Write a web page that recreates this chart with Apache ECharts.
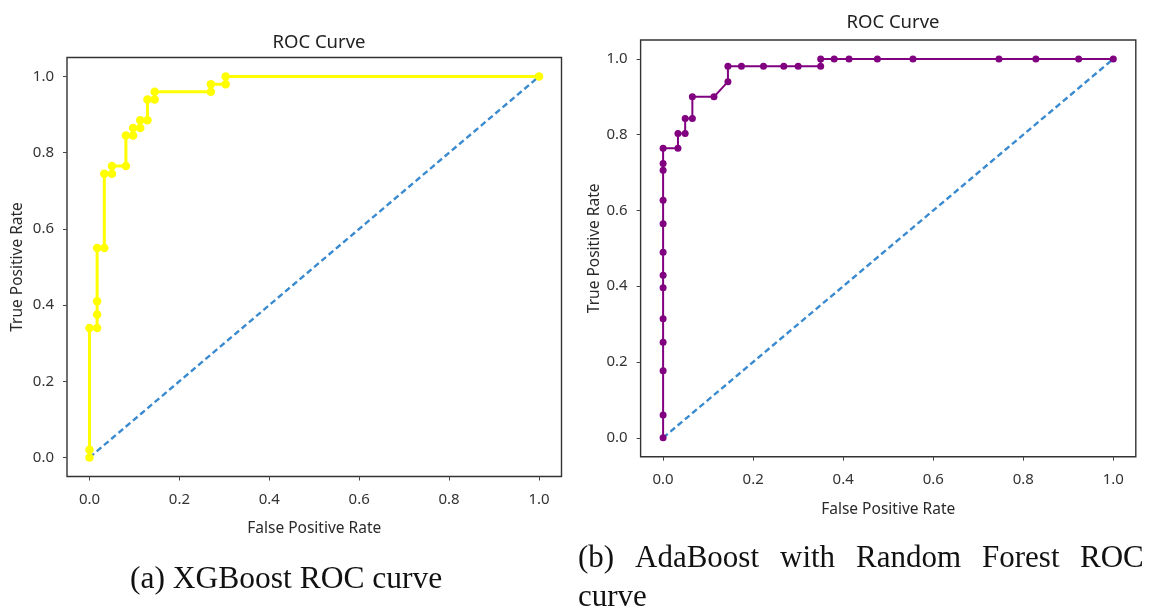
<!DOCTYPE html>
<html>
<head>
<meta charset="utf-8">
<script src="https://cdn.jsdelivr.net/npm/echarts@6/dist/echarts.min.js"></script>
<style>
html,body{margin:0;padding:0;background:#fff;}
#chart{width:1153px;height:608px;}
</style>
</head>
<body>
<div id="chart"></div>
<script>
// ---- data ----
const tickValues = [0, 0.2, 0.4, 0.6, 0.8, 1.0];
const chartTitles = ['ROC Curve', 'ROC Curve'];
const xAxisName = 'False Positive Rate';
const yAxisName = 'True Positive Rate';

// (a) XGBoost ROC curve
const xgbFpr = [0, 0, 0, 0.017, 0.017, 0.017, 0.017, 0.033, 0.033, 0.05, 0.05, 0.081, 0.081, 0.097, 0.097, 0.113, 0.113, 0.129, 0.129, 0.145, 0.145, 0.27, 0.27, 0.303, 0.303, 1.0];
const xgbTpr = [0, 0.02, 0.34, 0.34, 0.375, 0.41, 0.55, 0.55, 0.745, 0.745, 0.765, 0.765, 0.845, 0.845, 0.865, 0.865, 0.885, 0.885, 0.94, 0.94, 0.96, 0.96, 0.98, 0.98, 1.0, 1.0];

// (b) AdaBoost with Random Forest ROC curve
const adaFpr = [0, 0, 0, 0, 0, 0, 0, 0, 0, 0, 0, 0, 0, 0.033, 0.033, 0.049, 0.049, 0.065, 0.065, 0.113, 0.144, 0.144, 0.174, 0.223, 0.268, 0.30, 0.35, 0.35, 0.38, 0.413, 0.476, 0.555, 0.746, 0.828, 0.923, 1.0];
const adaTpr = [0, 0.06, 0.177, 0.252, 0.314, 0.396, 0.429, 0.49, 0.565, 0.627, 0.706, 0.724, 0.764, 0.764, 0.803, 0.803, 0.843, 0.843, 0.90, 0.90, 0.94, 0.981, 0.981, 0.981, 0.981, 0.981, 0.981, 1.0, 1.0, 1.0, 1.0, 1.0, 1.0, 1.0, 1.0, 1.0];

// chance line
const diagX = [0, 1];
const diagY = [0, 1];

const captionA = '(a) XGBoost ROC curve';
const captionBWords = ['(b)', 'AdaBoost', 'with', 'Random', 'Forest', 'ROC'];
const captionBLine2 = 'curve';

// ---- build ----
const zip = (a, b) => a.map((v, i) => [v, b[i]]);
const SANS = "'Noto Sans', 'Open Sans', 'DejaVu Sans', sans-serif";
const SERIF = "'Liberation Serif', 'DejaVu Serif', serif";

const grids = [
  {left: 67, top: 57.5, width: 494.5, height: 419},
  {left: 640.6, top: 40, width: 495.2, height: 416.7}
];
const xNameGaps = [44, 45];
const yNameGaps = [41, 38];

function tickCfg() {
  return {show: true, inside: false, length: 4, customValues: tickValues, lineStyle: {color: '#444', width: 1}};
}
function makeX(i) {
  return {
    type: 'value', gridIndex: i, min: -0.05, max: 1.05,
    name: xAxisName, nameLocation: 'middle', nameGap: xNameGaps[i],
    nameTextStyle: {fontFamily: SANS, fontSize: 15.5, color: '#2a2a2a'},
    axisLine: {show: false, onZero: false},
    axisTick: tickCfg(),
    axisLabel: {customValues: tickValues, margin: 16, fontFamily: SANS, fontSize: 15, color: '#333',
      formatter: v => Number(v).toFixed(1)},
    splitLine: {show: false}
  };
}
function makeY(i) {
  return {
    type: 'value', gridIndex: i, min: -0.05, max: 1.05,
    name: yAxisName, nameLocation: 'middle', nameGap: yNameGaps[i],
    nameTextStyle: {fontFamily: SANS, fontSize: 15.5, color: '#2a2a2a'},
    axisLine: {show: false, onZero: false},
    axisTick: tickCfg(),
    axisLabel: {customValues: tickValues, margin: 13, fontFamily: SANS, fontSize: 15, color: '#333',
      formatter: v => Number(v).toFixed(1)},
    splitLine: {show: false}
  };
}

const diagStyle = {color: '#3a8ad0', width: 2.4, type: [6, 3.5]};

const option = {
  backgroundColor: '#fff',
  animation: false,
  title: [
    {text: chartTitles[0], left: 314, top: 28, textAlign: 'center',
     textStyle: {fontFamily: SANS, fontSize: 18.5, fontWeight: 'normal', color: '#222'}},
    {text: chartTitles[1], left: 888, top: 8, textAlign: 'center',
     textStyle: {fontFamily: SANS, fontSize: 18.5, fontWeight: 'normal', color: '#222'}}
  ],
  grid: grids.map(g => Object.assign({show: true, borderColor: '#333', borderWidth: 1.4, backgroundColor: 'transparent', containLabel: false}, g)),
  xAxis: [makeX(0), makeX(1)],
  yAxis: [makeY(0), makeY(1)],
  series: [
    {type: 'line', xAxisIndex: 0, yAxisIndex: 0, data: zip(xgbFpr, xgbTpr),
     symbol: 'circle', symbolSize: 8.5, showAllSymbol: true,
     lineStyle: {color: '#ffff00', width: 3}, itemStyle: {color: '#ffff00'}, z: 3},
    {type: 'line', xAxisIndex: 0, yAxisIndex: 0, data: zip(diagX, diagY),
     symbol: 'none', lineStyle: diagStyle, z: 2},
    {type: 'line', xAxisIndex: 1, yAxisIndex: 1, data: zip(adaFpr, adaTpr),
     symbol: 'circle', symbolSize: 7, showAllSymbol: true,
     lineStyle: {color: '#800080', width: 2}, itemStyle: {color: '#800080'}, z: 3},
    {type: 'line', xAxisIndex: 1, yAxisIndex: 1, data: zip(diagX, diagY),
     symbol: 'none', lineStyle: diagStyle, z: 2}
  ],
  graphic: []
};

// captions
option.graphic.push({type: 'text', left: 130, top: 564, style: {text: captionA, font: '31.5px ' + SERIF, fill: '#111'}});
const wordX = [578, 635, 780, 856, 982, 1080];
captionBWords.forEach((w, i) => {
  option.graphic.push({type: 'text', left: wordX[i], top: 543, style: {text: w, font: '31px ' + SERIF, fill: '#111'}});
});
option.graphic.push({type: 'text', left: 578, top: 582, style: {text: captionBLine2, font: '31px ' + SERIF, fill: '#111'}});

const chart = echarts.init(document.getElementById('chart'), null, {renderer: 'canvas'});
chart.setOption(option);
</script>
</body>
</html>
